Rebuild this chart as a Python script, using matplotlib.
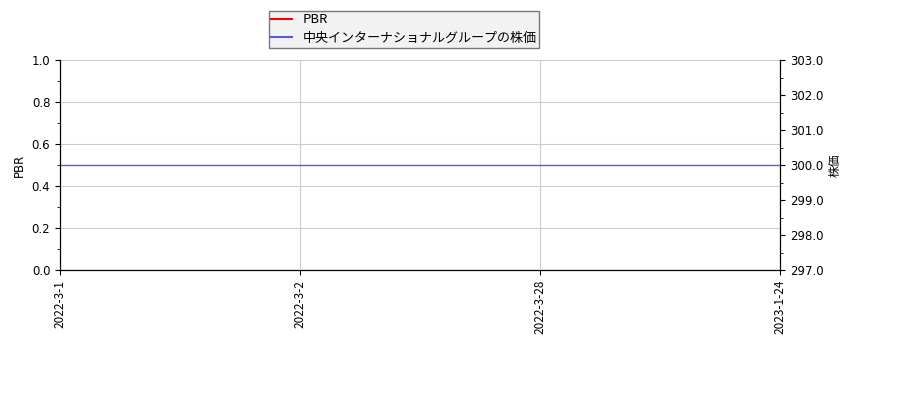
import matplotlib
matplotlib.use('Agg')
import matplotlib.pyplot as plt
from matplotlib.ticker import MultipleLocator, FormatStrFormatter
import numpy as np

plt.rcParams['font.family'] = ['DejaVu Sans', 'Noto Sans CJK JP']

dates = ['2022-3-1', '2022-3-2', '2022-3-28', '2023-1-24']
pbr = [np.nan, np.nan, np.nan, np.nan]
price = [300.0, 300.0, 300.0, 300.0]

fig = plt.figure(figsize=(9, 4), dpi=100)
ax = fig.add_axes([60 / 900, 1 - 270 / 400, 720 / 900, 210 / 400])
ax2 = ax.twinx()

x = np.arange(len(dates))
l1, = ax.plot(x, pbr, color='red', label='PBR')
l2, = ax2.plot(x, price, color='#5a5ae0', linewidth=1.0, label='中央インターナショナルグループの株価')

ax.set_xlim(0, len(dates) - 1)
ax.set_ylim(0, 1)
ax2.set_ylim(297, 303)
ax.set_xticks(x)
ax.set_xticklabels(dates, rotation=90, fontsize=7, family=['Noto Sans CJK JP'])
ax.yaxis.set_minor_locator(MultipleLocator(0.1))
ax2.yaxis.set_major_locator(MultipleLocator(1))
ax2.yaxis.set_minor_locator(MultipleLocator(0.5))
ax2.yaxis.set_major_formatter(FormatStrFormatter('%.1f'))
ax.tick_params(labelsize=8.5)
ax2.tick_params(labelsize=8.5)
ax.set_ylabel('PBR', fontsize=8.5)
ax2.set_ylabel('株価', fontsize=8.5)
ax.grid(True, color='#cccccc', linewidth=0.8)

for a in (ax, ax2):
    a.spines['top'].set_visible(False)

leg = fig.legend([l1, l2], [l1.get_label(), l2.get_label()],
                 loc='upper left', bbox_to_anchor=(262 / 900, 1 - 4 / 400),
                 prop={'family': ['Noto Sans CJK JP'], 'size': 9.4},
                 fancybox=False, framealpha=1,
                 facecolor='#f2f2f2', edgecolor='#777777',
                 borderpad=0.2, labelspacing=0.45, handlelength=1.6)
for h in leg.get_lines():
    h.set_linewidth(1.5)

fig.savefig('out.png', dpi=100)
